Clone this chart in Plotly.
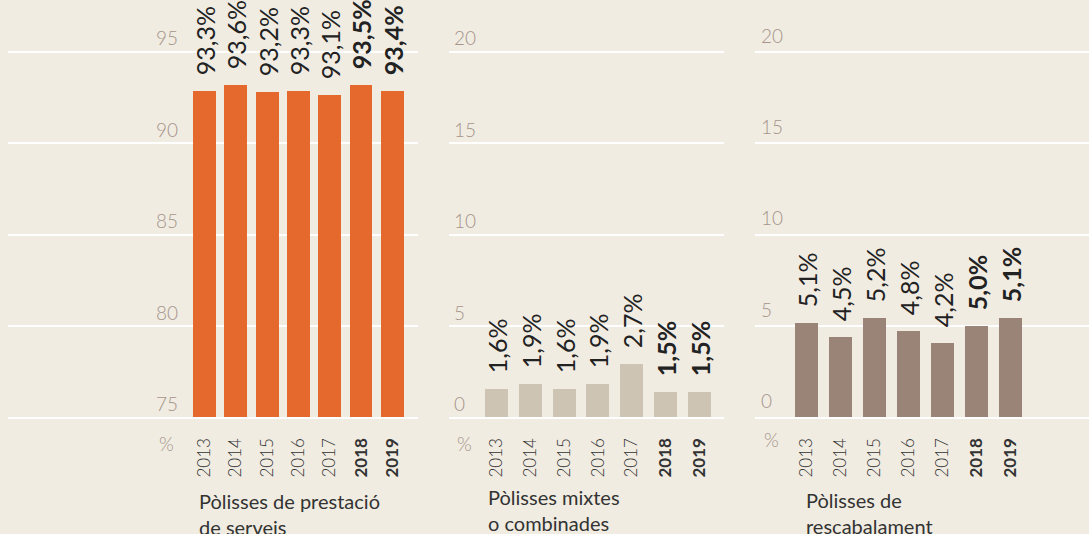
import plotly.graph_objects as go

W, H = 1089, 534

years = ["2013", "2014", "2015", "2016", "2017", "2018", "2019"]
bold_years = ["2018", "2019"]

# bar heights as drawn, and the printed labels (they differ slightly in the source)
prest_bar = [92.87, 93.18, 92.80, 92.85, 92.64, 93.18, 92.85]
prest_lbl = [93.3, 93.6, 93.2, 93.3, 93.1, 93.5, 93.4]
mixt_bar = [1.55, 1.82, 1.55, 1.82, 2.92, 1.38, 1.38]
mixt_lbl = [1.6, 1.9, 1.6, 1.9, 2.7, 1.5, 1.5]
resc_bar = [5.17, 4.40, 5.44, 4.73, 4.08, 5.00, 5.44]
resc_lbl = [5.1, 4.5, 5.2, 4.8, 4.2, 5.0, 5.1]

prest_ticks = [75, 80, 85, 90, 95]
other_ticks = [0, 5, 10, 15, 20]

titles = ["Pòlisses de prestació<br>de serveis",
          "Pòlisses mixtes<br>o combinades",
          "Pòlisses de<br>rescabalament"]

BG = "rgb(240,236,226)"
FONT = "Lato"
TICK_C = "rgb(166,148,138)"
TXT_C = "rgb(34,34,34)"


def fmt(v, y):
    s = f"{v:.1f}".replace(".", ",") + "%"
    if y in bold_years:
        s = "<b>" + s + "</b>"
    return "\u00a0\u00a0" + s


def year_txt(y):
    return f"<b>{y}</b>" if y in bold_years else y


fig = go.Figure()

panels = [
    (prest_bar, prest_lbl, "rgb(229,104,45)", "x", "y", 23 / 31.33),
    (mixt_bar, mixt_lbl, "rgb(205,196,180)", "x2", "y2", 23 / 33.83),
    (resc_bar, resc_lbl, "rgb(154,132,119)", "x3", "y3", 23 / 34.0),
]
for vals, lbls, col, xa, ya, w in panels:
    fig.add_trace(go.Bar(
        x=years, y=vals, xaxis=xa, yaxis=ya, width=w,
        marker=dict(color=col, line=dict(width=0)),
        text=[fmt(v, y) for v, y in zip(lbls, years)],
        textposition="outside", textangle=-90, cliponaxis=False,
        constraintext="none",
        textfont=dict(family=FONT, size=25, color=TXT_C),
        hoverinfo="skip", showlegend=False,
    ))

ybot = (H - 417.3) / H
px_unit = 18.28

xcommon = dict(
    type="category", showgrid=False, zeroline=False,
    showline=True, linecolor="white", linewidth=2,
    ticks="", tickangle=-90, ticklabelstandoff=12,
    tickvals=years, ticktext=[year_txt(y) for y in years],
    tickfont=dict(family=FONT, size=17, color="rgb(51,51,51)", weight=300),
    fixedrange=True,
)
ycommon = dict(
    showgrid=True, gridcolor="white", gridwidth=2, zeroline=False,
    showline=False, ticks="", domain=[ybot, 1],
    tickfont=dict(family=FONT, size=19, color=TICK_C, weight=300),
    fixedrange=True,
)

fig.update_layout(
    width=W, height=H,
    margin=dict(l=0, r=0, t=0, b=0),
    paper_bgcolor=BG, plot_bgcolor=BG,
    bargap=0,
    xaxis=dict(xcommon, domain=[8 / W, 418 / W], anchor="y",
               range=[-6.27, 6.82]),
    xaxis2=dict(xcommon, domain=[449 / W, 724 / W], anchor="y2",
                range=[-1.404, 6.725]),
    xaxis3=dict(xcommon, domain=[755 / W, 1.0], anchor="y3",
                range=[-1.515, 8.309]),
    yaxis=dict(ycommon, anchor="free", position=178 / W,
               range=[75, 75 + 417.3 / px_unit],
               tickvals=prest_ticks, ticklabelshift=-13),
    yaxis2=dict(ycommon, anchor="x2", range=[0, 417.3 / px_unit],
                tickvals=other_ticks, ticklabelposition="inside",
                ticklabelstandoff=2, ticklabelshift=-13),
    yaxis3=dict(ycommon, anchor="x3", range=[0, 417.5 / px_unit],
                tickvals=other_ticks, ticklabelposition="inside",
                ticklabelstandoff=3, ticklabelshift=-16),
)

# unit markers
for xp, yp in [(176, 443), (474, 443), (781, 439)]:
    fig.add_annotation(text="%", xref="paper", yref="paper",
                       x=xp / W, y=(H - yp) / H, xanchor="right", yanchor="middle",
                       showarrow=False,
                       font=dict(family=FONT, size=19, color=TICK_C, weight=300))

# panel titles
for t, xp, yp in zip(titles, [197, 486, 804], [514, 510, 513]):
    fig.add_annotation(text=t, xref="paper", yref="paper",
                       x=xp / W, y=(H - yp) / H, xanchor="left", yanchor="middle",
                       align="left", showarrow=False,
                       font=dict(family=FONT, size=20, color="rgb(51,51,51)"))

fig.write_html("out.html", config={"displayModeBar": False},
               post_script="document.body.style.margin='0px';")
